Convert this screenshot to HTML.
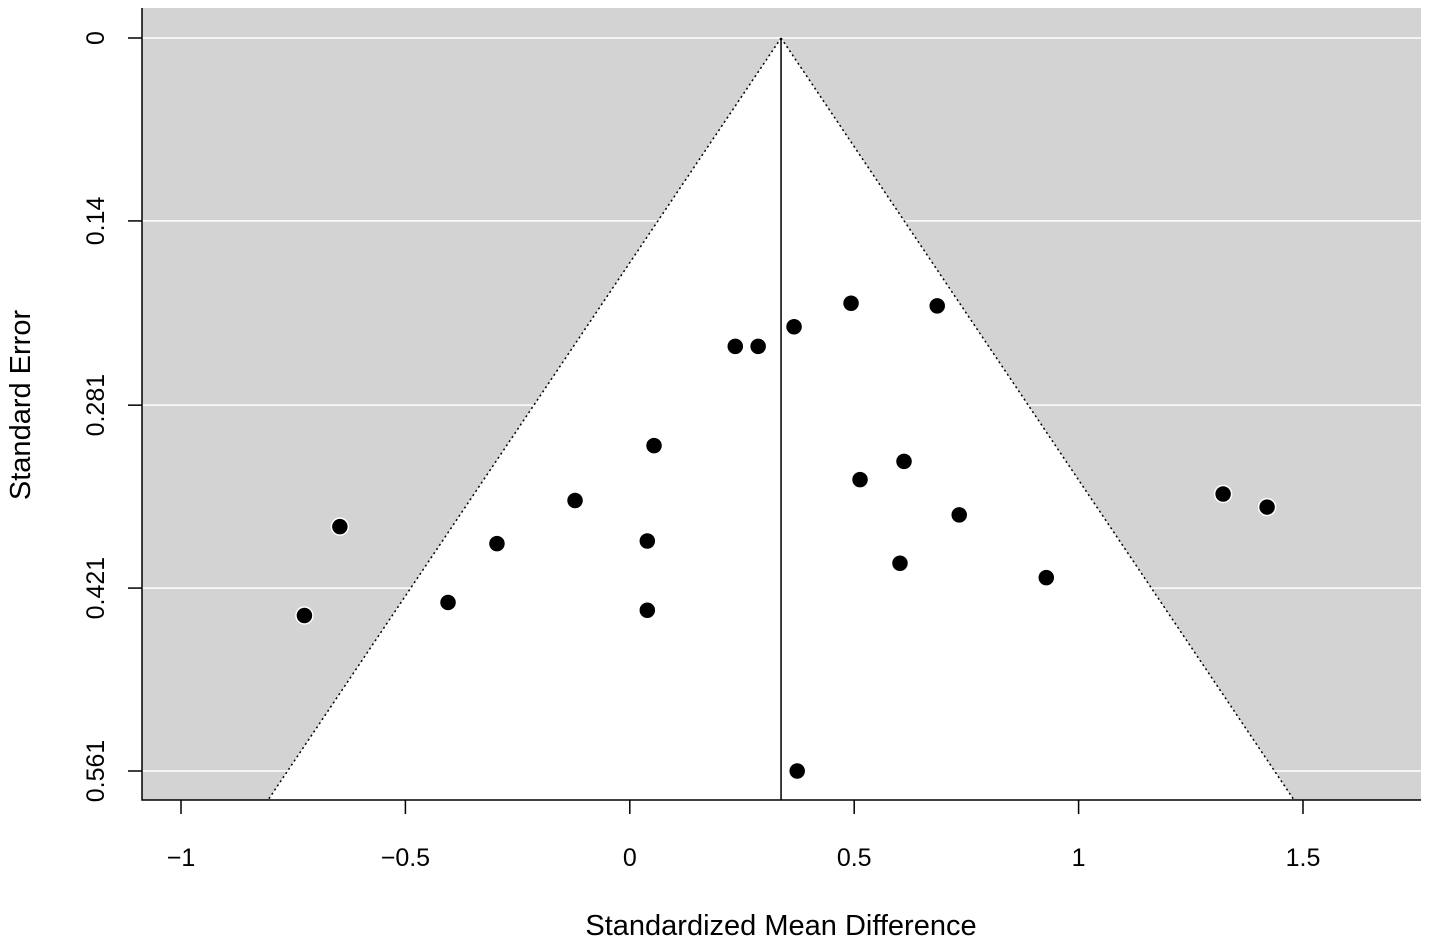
<!DOCTYPE html>
<html><head><meta charset="utf-8"><style>
body{margin:0;background:#fff}
svg text{font-family:"Liberation Sans",Arial,sans-serif;fill:#000}
</style></head><body>
<svg id="chart" width="1429" height="942" xmlns="http://www.w3.org/2000/svg">
<rect x="142" y="8" width="1279" height="792" fill="#d3d3d3"/>
<g id="g"></g>
</svg>
<script>
const smd=[0.493,0.685,0.366,0.235,0.286,0.054,0.611,0.513,-0.122,0.734,-0.646,-0.296,0.039,0.602,0.928,-0.405,-0.725,0.039,1.322,1.420,0.373];
const se=[0.203,0.205,0.221,0.236,0.236,0.312,0.324,0.338,0.354,0.365,0.374,0.387,0.385,0.402,0.413,0.432,0.442,0.438,0.349,0.359,0.561];
const pooled=0.337;
const xTicks=[-1,-0.5,0,0.5,1,1.5];
const xTickLabels=["\u22121","\u22120.5","0","0.5","1","1.5"];
const yTicks=[0,0.14,0.281,0.421,0.561];
const yTickLabels=["0","0.14","0.281","0.421","0.561"];
const L=142,R=1421,T=8,B=800;
const X=v=>629.8+v*448.8;
const Y=v=>38+v*1306.6;
const seMax=(B-38)/1306.6;
const g=document.getElementById('g');
const NS='http://www.w3.org/2000/svg';
function mk(t,a,p){const e=document.createElementNS(NS,t);for(const k in a)e.setAttribute(k,a[k]);(p||g).appendChild(e);return e;}
let f=mk('polygon',{points:`${X(pooled)},${Y(0)} ${X(pooled-1.96*seMax)},${B} ${X(pooled+1.96*seMax)},${B}`,fill:'#fff'});


yTicks.forEach((t,i)=>{
 let l=mk('line',{x1:L,x2:R,y1:Y(t),y2:Y(t),stroke:'#fff','stroke-width':1.5});
 
 
});
[-1,1].forEach(s=>{
 let l=mk('line',{x1:X(pooled),y1:Y(0),x2:X(pooled+s*1.96*seMax),y2:B,stroke:'#000','stroke-width':1.5,'stroke-dasharray':'2,3'});
 
 
});
let c=mk('line',{x1:X(pooled),x2:X(pooled),y1:Y(0),y2:B,stroke:'#000','stroke-width':1.5});


smd.forEach((v,i)=>{
 let p=mk('circle',{cx:X(v),cy:Y(se[i]),r:8.5,fill:'#000',stroke:'#fff','stroke-width':1.5});
 
 
});
let ax=mk('path',{d:`M${L},${T} V${B} H${R}`,fill:'none',stroke:'#000','stroke-width':1.5});


xTicks.forEach((t,i)=>{
 mk('line',{x1:X(t),x2:X(t),y1:B,y2:B+14,stroke:'#000','stroke-width':1.5});
 let tx=mk('text',{x:X(t),y:866,'text-anchor':'middle','font-size':25});
 tx.textContent=xTickLabels[i];
 
 
});
yTicks.forEach((t,i)=>{
 mk('line',{x1:L,x2:L-14,y1:Y(t),y2:Y(t),stroke:'#000','stroke-width':1.5});
 let tx=mk('text',{x:0,y:0,'text-anchor':'middle','font-size':25,transform:`translate(104,${Y(t)}) rotate(-90)`});
 tx.textContent=yTickLabels[i];
 
 
});
let xt=mk('text',{x:781,y:935,'text-anchor':'middle','font-size':29});
xt.textContent='Standardized Mean Difference';


let yt=mk('text',{x:0,y:0,'text-anchor':'middle','font-size':29,transform:'translate(30,405) rotate(-90)'});
yt.textContent='Standard Error';


</script>
</body></html>
